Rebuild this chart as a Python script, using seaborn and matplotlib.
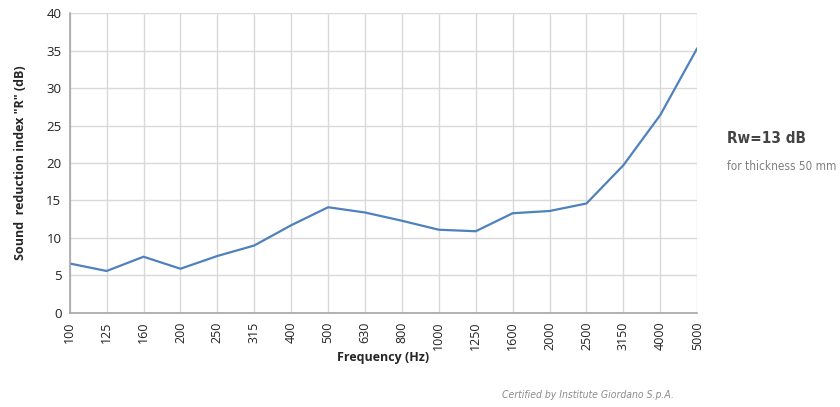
import numpy as np
import pandas as pd
import matplotlib
matplotlib.use("Agg")
import matplotlib.pyplot as plt
import seaborn as sns

# frequency bands (Hz) and measured sound reduction index R (dB)
freq_labels = ["100", "125", "160", "200", "250", "315", "400", "500", "630",
               "800", "1000", "1250", "1600", "2000", "2500", "3150", "4000", "5000"]
r_values = [6.6, 5.6, 7.5, 5.9, 7.6, 9.0, 11.7, 14.1, 13.4,
            12.3, 11.1, 10.9, 13.3, 13.6, 14.6, 19.7, 26.4, 35.3]
y_ticks = [0, 5, 10, 15, 20, 25, 30, 35, 40]

sns.set_style("white")
plt.rcParams["font.family"] = ["Open Sans", "DejaVu Sans"]

df = pd.DataFrame({"pos": np.arange(len(freq_labels)), "R": r_values})

fig = plt.figure(figsize=(8.4, 4.07), dpi=100)
ax = fig.add_axes([0.083, 0.231, 0.747, 0.737])

sns.lineplot(data=df, x="pos", y="R", ax=ax, color="#4f81bd", linewidth=1.6)

ax.set_xlim(0, len(freq_labels) - 1)
ax.set_ylim(0, 40)
ax.set_xticks(df["pos"])
ax.set_xticklabels(freq_labels, rotation=90, fontsize=9, color="#222222")
ax.set_yticks(y_ticks)
ax.set_yticklabels([str(t) for t in y_ticks], fontsize=9.5, color="#222222")

ax.grid(True, color="#d9d9d9", linewidth=1)
ax.set_axisbelow(True)
for side in ["top", "right"]:
    ax.spines[side].set_visible(False)
for side in ["left", "bottom"]:
    ax.spines[side].set_color("#a6a6a6")
    ax.spines[side].set_linewidth(1.2)
ax.tick_params(axis="both", direction="out", length=4, width=1, color="#a6a6a6", pad=2)

ax.set_xlabel("Frequency (Hz)", fontsize=9, fontweight="bold", labelpad=1)
ax.set_ylabel('Sound  reduction index "R" (dB)', fontsize=9, fontweight="bold", labelpad=14)

narrow = dict(family="DejaVu Sans", stretch="condensed")
fig.text(0.866, 0.648, "Rw=13 dB", fontsize=11, fontweight="bold", color="#444444", **narrow)
fig.text(0.866, 0.583, "for thickness 50 mm", fontsize=8.5, color="#7f7f7f", **narrow)
fig.text(0.598, 0.022, "Certified by Institute Giordano S.p.A.", fontsize=7.5, style="italic",
         color="#8c8c8c", **narrow)

fig.savefig("out.png", dpi=100)
